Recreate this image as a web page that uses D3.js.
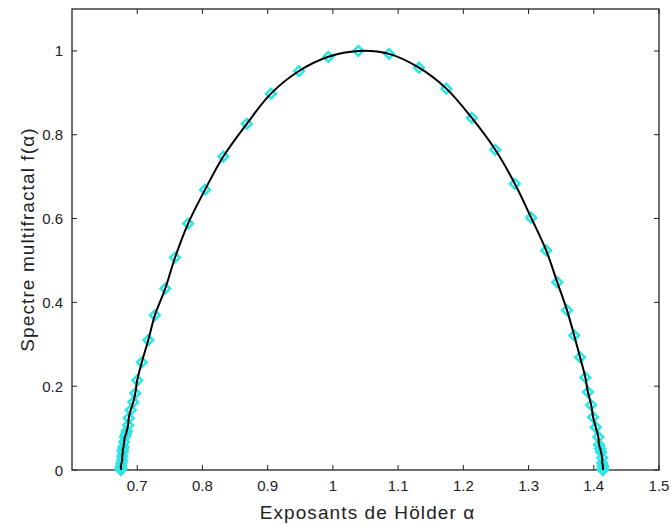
<!DOCTYPE html>
<html><head><meta charset="utf-8">
<script src="https://cdn.jsdelivr.net/npm/d3@7"></script>
<style>body{margin:0;background:#fff}svg{display:block}</style>
</head><body>
<script>
const alphaValues = [0.675,0.675,0.675,0.676,0.677,0.677,0.678,0.678,0.679,0.680,0.681,0.683,0.684,0.686,0.687,0.690,0.694,0.697,0.700,0.707,0.717,0.727,0.743,0.758,0.778,0.804,0.832,0.868,0.905,0.948,0.993,1.039,1.086,1.132,1.174,1.213,1.249,1.279,1.304,1.327,1.344,1.359,1.370,1.379,1.387,1.391,1.396,1.399,1.403,1.407,1.408,1.410,1.411,1.413,1.413,1.414,1.414,1.414];
const fValues =     [0.000,0.005,0.010,0.017,0.024,0.033,0.043,0.049,0.055,0.067,0.079,0.086,0.093,0.107,0.124,0.143,0.162,0.183,0.214,0.257,0.310,0.369,0.433,0.507,0.588,0.669,0.748,0.826,0.898,0.952,0.986,1.000,0.993,0.960,0.910,0.840,0.764,0.683,0.602,0.524,0.448,0.381,0.321,0.269,0.221,0.186,0.155,0.126,0.102,0.079,0.060,0.051,0.043,0.029,0.017,0.010,0.005,0.000];
const xTicks = [0.7,0.8,0.9,1.0,1.1,1.2,1.3,1.4,1.5];
const xTickLabels = ["0.7","0.8","0.9","1","1.1","1.2","1.3","1.4","1.5"];
const yTicks = [0,0.2,0.4,0.6,0.8,1];
const yTickLabels = ["0","0.2","0.4","0.6","0.8","1"];
const xLabel = "Exposants de Hölder α";
const yLabel = "Spectre multifractal f(α)";

const W = 671, H = 525;
const m = {left:72, top:9, right:12, bottom:55};
const svg = d3.select("body").append("svg").attr("width",W).attr("height",H);
const x = d3.scaleLinear().domain([0.6,1.5]).range([m.left, W-m.right]);
const y = d3.scaleLinear().domain([0,1.1]).range([H-m.bottom, m.top]);
const font = "'Liberation Sans', Arial, sans-serif";
const txt = "#222";

// box
svg.append("rect").attr("x",x(0.6)).attr("y",y(1.1)).attr("width",x(1.5)-x(0.6)).attr("height",y(0)-y(1.1))
  .attr("fill","#fff").attr("stroke","#222").attr("stroke-width",1.3);

const tl = 5;
const g = svg.append("g");
xTicks.forEach((t,i)=>{
  g.append("line").attr("x1",x(t)).attr("x2",x(t)).attr("y1",y(0)).attr("y2",y(0)-tl).attr("stroke","#222");
  g.append("line").attr("x1",x(t)).attr("x2",x(t)).attr("y1",y(1.1)).attr("y2",y(1.1)+tl).attr("stroke","#222");
  g.append("text").attr("x",x(t)).attr("y",y(0)+21).attr("text-anchor","middle")
    .attr("font-family",font).attr("font-size",15).attr("fill",txt).text(xTickLabels[i]);
});
yTicks.forEach((t,i)=>{
  g.append("line").attr("x1",x(0.6)).attr("x2",x(0.6)+tl).attr("y1",y(t)).attr("y2",y(t)).attr("stroke","#222");
  g.append("line").attr("x1",x(1.5)).attr("x2",x(1.5)-tl).attr("y1",y(t)).attr("y2",y(t)).attr("stroke","#222");
  g.append("text").attr("x",x(0.6)-9).attr("y",y(t)+5.5).attr("text-anchor","end")
    .attr("font-family",font).attr("font-size",15).attr("fill",txt).text(yTickLabels[i]);
});

// markers
const pts = alphaValues.map((a,i)=>[a,fValues[i]]);
svg.append("g").selectAll("path").data(pts).join("path")
  .attr("d", d3.symbol().type(d3.symbolSquare).size(46))
  .attr("transform",d=>`translate(${x(d[0])},${y(d[1])}) rotate(45)`)
  .attr("fill","none").attr("stroke","#2de6e6").attr("stroke-width",2.6);

// line
svg.append("path").datum(pts)
  .attr("d", d3.line().x(d=>x(d[0])).y(d=>y(d[1])).curve(d3.curveCatmullRom.alpha(0.5)))
  .attr("fill","none").attr("stroke","#000").attr("stroke-width",2);

// labels
svg.append("text").attr("x",(x(0.6)+x(1.5))/2 + 2).attr("y",519).attr("text-anchor","middle")
  .attr("font-family",font).attr("font-size",19).attr("letter-spacing",1.1).attr("fill",txt).text(xLabel);
svg.append("text").attr("transform",`translate(34,${(y(0)+y(1.1))/2}) rotate(-90)`).attr("text-anchor","middle")
  .attr("font-family",font).attr("font-size",19).attr("letter-spacing",1.1).attr("fill",txt).text(yLabel);
</script>
</body></html>
